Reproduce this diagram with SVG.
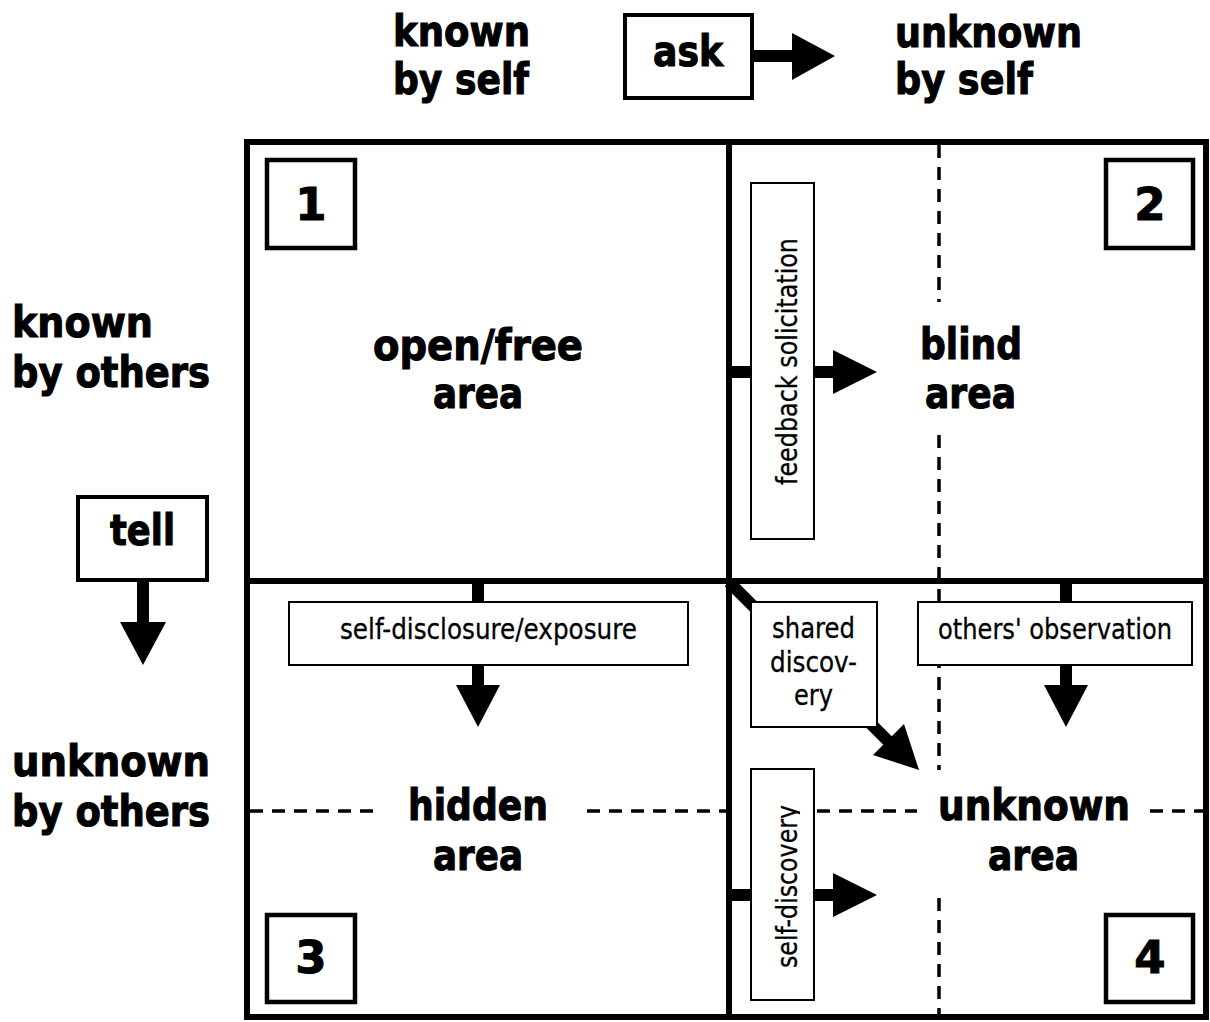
<svg xmlns="http://www.w3.org/2000/svg" width="1210" height="1022" viewBox="0 0 1210 1022">
<style>
  .grid { fill: none; stroke: #000; stroke-width: 6; }
  .numbox { fill: #fff; stroke: #000; stroke-width: 4.5; }
  .lbox { fill: #fff; stroke: #000; stroke-width: 2; }
  .hbox { fill: #fff; stroke: #000; stroke-width: 4; }
  .dash { fill: none; stroke: #000; stroke-width: 3.5; stroke-dasharray: 13 9; }
  .shaft { fill: none; stroke: #000; stroke-width: 12; }
  .head { fill: #000; stroke: none; }
  .b { font-family: "DejaVu Sans", Verdana, sans-serif; font-weight: bold; font-size: 42px; fill: #000; stroke: #000; stroke-width: 1.1; }
  .num { font-family: "DejaVu Sans", Verdana, sans-serif; font-weight: bold; font-size: 45px; fill: #000; text-anchor: middle; stroke: #000; stroke-width: 1; }
  .r { font-family: "DejaVu Sans", Verdana, sans-serif; font-size: 28px; fill: #000; text-anchor: middle; stroke: #000; stroke-width: 0.3; }
  .c { text-anchor: middle; }
</style>
<defs>
  <clipPath id="sdclip"><rect x="751" y="769" width="49" height="231"/></clipPath>
</defs>
<rect width="1210" height="1022" fill="#fff"/>

<g id="connectors">
  <line class="dash" x1="939" y1="145" x2="939" y2="302"/>
  <line class="dash" x1="939" y1="435" x2="939" y2="770"/>
  <line class="dash" x1="939" y1="898" x2="939" y2="1015"/>
  <line class="dash" x1="250" y1="811" x2="373" y2="811"/>
  <line class="dash" x1="587" y1="811" x2="727" y2="811"/>
  <line class="dash" x1="817" y1="811" x2="917" y2="811"/>
  <line class="dash" x1="1150" y1="811" x2="1206" y2="811"/>
  <line class="shaft" x1="752" y1="56" x2="794" y2="56"/>
  <polygon class="head" points="792,33 835,56 792,80"/>
  <line class="shaft" x1="143" y1="580" x2="143" y2="624"/>
  <polygon class="head" points="120,622 166,622 143,665"/>
  <line class="shaft" x1="729" y1="372" x2="835" y2="372"/>
  <polygon class="head" points="833,350 877,372 833,394"/>
  <line class="shaft" x1="729" y1="895" x2="835" y2="895"/>
  <polygon class="head" points="833,873 877,895 833,917"/>
  <line class="shaft" x1="478" y1="582" x2="478" y2="687"/>
  <polygon class="head" points="456,685 500,685 478,727"/>
  <line class="shaft" x1="1066" y1="582" x2="1066" y2="687"/>
  <polygon class="head" points="1044,685 1088,685 1066,727"/>
  <line class="shaft" x1="729" y1="582" x2="890" y2="743"/>
  <polygon class="head" points="904,724 919,770 873,755"/>
</g>

<g id="grid">
  <rect class="grid" x="247" y="142" width="959" height="875"/>
  <line class="grid" x1="729" y1="142" x2="729" y2="1017"/>
  <line class="grid" x1="247" y1="581" x2="1206" y2="581"/>
</g>

<g id="header-known-self">
  <text class="b" x="393" y="46" textLength="137" lengthAdjust="spacingAndGlyphs">known</text>
  <text class="b" x="393" y="94" textLength="136" lengthAdjust="spacingAndGlyphs">by self</text>
</g>
<g id="header-unknown-self">
  <text class="b" x="895" y="47" textLength="187" lengthAdjust="spacingAndGlyphs">unknown</text>
  <text class="b" x="895" y="94" textLength="138" lengthAdjust="spacingAndGlyphs">by self</text>
</g>
<g id="ask">
  <rect class="hbox" x="625" y="15" width="127" height="83"/>
  <text class="b c" x="688" y="66" textLength="70" lengthAdjust="spacingAndGlyphs">ask</text>
</g>
<g id="header-known-others">
  <text class="b" x="12" y="337" textLength="141" lengthAdjust="spacingAndGlyphs">known</text>
  <text class="b" x="12" y="387" textLength="198" lengthAdjust="spacingAndGlyphs">by others</text>
</g>
<g id="header-unknown-others">
  <text class="b" x="12" y="776" textLength="198" lengthAdjust="spacingAndGlyphs">unknown</text>
  <text class="b" x="12" y="826" textLength="198" lengthAdjust="spacingAndGlyphs">by others</text>
</g>
<g id="tell">
  <rect class="hbox" x="78" y="497" width="129" height="83"/>
  <text class="b c" x="142.5" y="545" textLength="65" lengthAdjust="spacingAndGlyphs">tell</text>
</g>

<g id="q1">
  <rect class="numbox" x="267" y="160" width="88" height="88"/>
  <text class="num" x="311" y="220">1</text>
  <text class="b c" x="478" y="360" textLength="210" lengthAdjust="spacingAndGlyphs">open/free</text>
  <text class="b c" x="478" y="408" textLength="90" lengthAdjust="spacingAndGlyphs">area</text>
</g>
<g id="q2">
  <rect class="numbox" x="1106" y="160" width="87" height="88"/>
  <text class="num" x="1150" y="220">2</text>
  <text class="b c" x="971" y="359" textLength="102" lengthAdjust="spacingAndGlyphs">blind</text>
  <text class="b c" x="970.5" y="408" textLength="91" lengthAdjust="spacingAndGlyphs">area</text>
</g>
<g id="q3">
  <rect class="numbox" x="267" y="915" width="88" height="87"/>
  <text class="num" x="311" y="973">3</text>
  <text class="b c" x="478" y="820" textLength="140" lengthAdjust="spacingAndGlyphs">hidden</text>
  <text class="b c" x="478" y="870" textLength="90" lengthAdjust="spacingAndGlyphs">area</text>
</g>
<g id="q4">
  <rect class="numbox" x="1106" y="915" width="87" height="87"/>
  <text class="num" x="1150" y="973">4</text>
  <text class="b c" x="1034" y="820" textLength="192" lengthAdjust="spacingAndGlyphs">unknown</text>
  <text class="b c" x="1033.5" y="870" textLength="91" lengthAdjust="spacingAndGlyphs">area</text>
</g>

<g id="feedback-solicitation">
  <rect class="lbox" x="751" y="183" width="63" height="356"/>
  <text class="r" transform="translate(797,361.5) rotate(-90)" textLength="247" lengthAdjust="spacingAndGlyphs">feedback solicitation</text>
</g>
<g id="self-disclosure">
  <rect class="lbox" x="289" y="602" width="399" height="63"/>
  <text class="r" x="488.5" y="639" textLength="297" lengthAdjust="spacingAndGlyphs">self-disclosure/exposure</text>
</g>
<g id="others-observation">
  <rect class="lbox" x="918" y="602" width="274" height="63"/>
  <text class="r" x="1055" y="639" textLength="234" lengthAdjust="spacingAndGlyphs">others' observation</text>
</g>
<g id="shared-discovery">
  <rect class="lbox" x="751" y="602" width="126" height="125"/>
  <text class="r" x="813.5" y="638" textLength="83" lengthAdjust="spacingAndGlyphs">shared</text>
  <text class="r" x="813.5" y="672" textLength="87" lengthAdjust="spacingAndGlyphs">discov-</text>
  <text class="r" x="813.5" y="705" textLength="39" lengthAdjust="spacingAndGlyphs">ery</text>
</g>
<g id="self-discovery">
  <rect class="lbox" x="751" y="769" width="63" height="231"/>
  <g clip-path="url(#sdclip)">
    <text class="r" transform="translate(797,886.5) rotate(-90)" textLength="163" lengthAdjust="spacingAndGlyphs">self-discovery</text>
  </g>
</g>
</svg>
